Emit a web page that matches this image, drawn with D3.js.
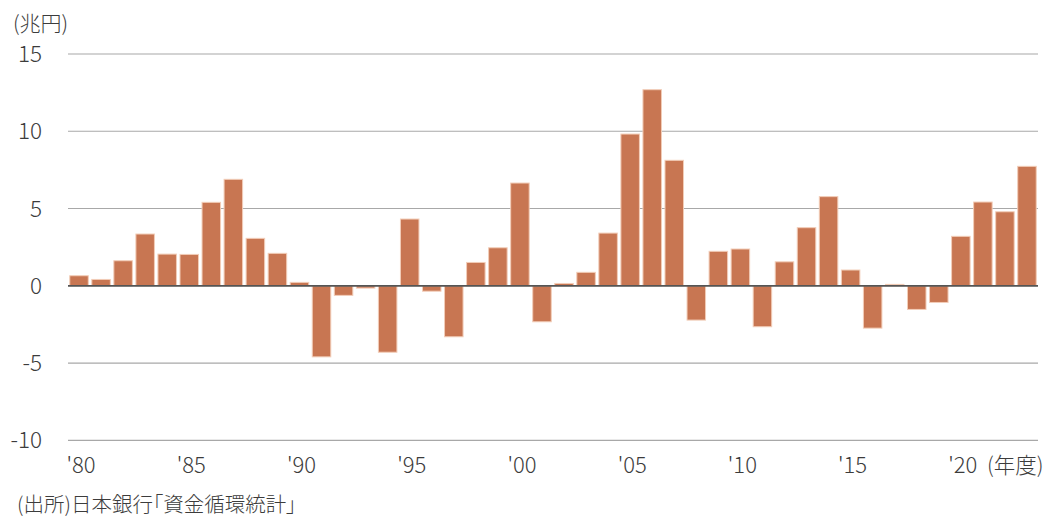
<!DOCTYPE html>
<html><head><meta charset="utf-8">
<script src="https://cdn.jsdelivr.net/npm/d3@7"></script>
<style>
html,body{margin:0;padding:0;background:#fff;}
text{font-family:"Noto Sans CJK JP","Noto Sans",sans-serif;fill:#3c3c3c;}
.palt{font-feature-settings:"palt" 1;}
</style></head>
<body>
<svg id="c" width="1049" height="519"></svg>
<script>
const years = d3.range(1980, 2024);
const values = [0.65,0.41,1.62,3.35,2.05,2.03,5.40,6.89,3.07,2.10,
  0.22,-4.60,-0.62,-0.15,-4.30,4.32,-0.35,-3.30,1.51,2.46,
  6.65,-2.33,0.15,0.87,3.41,9.82,12.69,8.12,-2.22,2.23,
  2.38,-2.65,1.55,3.76,5.77,1.02,-2.74,0.09,-1.53,-1.08,
  3.20,5.42,4.79,7.73];
const yTicks = [15,10,5,0,-5,-10];
const xTickYears = [1980,1985,1990,1995,2000,2005,2010,2015,2020];
const xTickLabels = ["'80","'85","'90","'95","'00","'05","'10","'15","'20"];
const unitLabel = "(兆円)";
const xUnitLabel = "(年度)";
const sourceLabel = "(出所)日本銀行「資金循環統計」";

const svg = d3.select("#c");
const L = 68, R = 1038;
const x = d3.scaleBand().domain(years).range([L, R]).paddingInner(0.16).paddingOuter(0.08);
const y = d3.scaleLinear().domain([-10, 15]).range([440.3, 54]);

svg.append("g").selectAll("line").data(yTicks.filter(d=>d!==0)).join("line")
  .attr("x1", L).attr("x2", R)
  .attr("y1", d=>y(d)).attr("y2", d=>y(d))
  .attr("stroke", "#a8a8a8").attr("stroke-width", 1.2);

svg.append("g").selectAll("text").data(yTicks).join("text")
  .attr("x", 42).attr("y", d=>y(d)).attr("dy", "0.36em")
  .attr("text-anchor", "end").attr("font-size", 22.5).attr("font-weight", 300)
  .text(d=>d);

svg.append("g").selectAll("rect").data(values).join("rect")
  .attr("x", (d,i)=>x(years[i]))
  .attr("width", x.bandwidth())
  .attr("y", d=>y(Math.max(0,d)))
  .attr("height", d=>Math.abs(y(d)-y(0)))
  .attr("fill", "#c87652")
  .attr("stroke", "#f2cdb8").attr("stroke-width", 1);

svg.append("line").attr("x1", L).attr("x2", R)
  .attr("y1", y(0)).attr("y2", y(0))
  .attr("stroke", "#555").attr("stroke-width", 1.8);

svg.append("g").selectAll("text").data(xTickYears).join("text")
  .attr("x", d=>x(d)+x.bandwidth()/2 + 2).attr("y", 473)
  .attr("text-anchor", "middle").attr("font-size", 22).attr("font-weight", 300)
  .text((d,i)=>xTickLabels[i]);

svg.append("text").attr("x", 987).attr("y", 473).attr("class","palt")
  .attr("font-size", 21.5).attr("font-weight", 300).text(xUnitLabel);

svg.append("text").attr("x", 13).attr("y", 31)
  .attr("font-size", 21).attr("font-weight", 300).text(unitLabel);

svg.append("text").attr("x", 17).attr("y", 512).attr("class","palt")
  .attr("font-size", 20.5).attr("font-weight", 300).text(sourceLabel);
</script>
</body></html>
